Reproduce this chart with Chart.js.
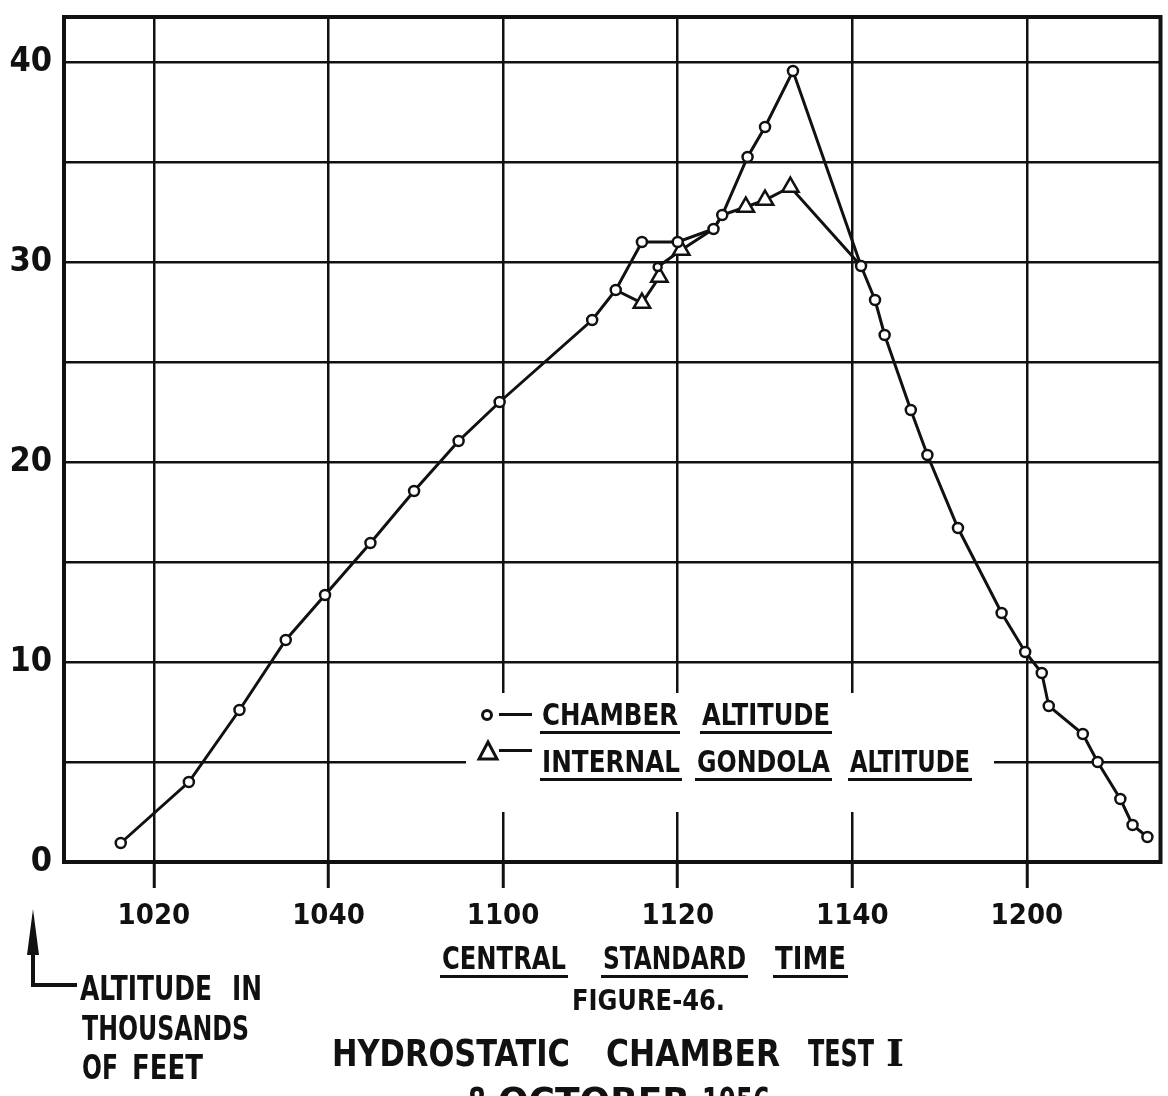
<!DOCTYPE html>
<html>
<head>
<meta charset="utf-8">
<title>Hydrostatic Chamber Test I</title>
<script src="https://cdn.jsdelivr.net/npm/chart.js@4.4.1/dist/chart.umd.min.js"></script>
<style>
  html, body { margin: 0; padding: 0; background: #fff; }
</style>
</head>
<body>
<canvas id="altitudeChart" width="1168" height="1096"></canvas>
<script>
// Time is minutes after 1000 CST, altitude in thousands of feet
const chamberTime = [16.2, 24.0, 29.8, 35.1, 39.6, 44.8, 49.8, 54.9, 59.6, 70.2, 72.9, 75.9, 80.0,
  84.1, 85.1, 88.0, 90.0, 93.2, 101.0, 102.6, 103.7, 106.7, 108.6, 112.1, 117.1, 119.8, 121.7,
  122.5, 126.4, 128.1, 130.7, 132.1, 133.8];
const chamberAlt = [0.95, 4.0, 7.6, 11.1, 13.35, 15.95, 18.55, 21.05, 23.0, 27.1, 28.6, 31.0, 31.0,
  31.65, 32.35, 35.25, 36.75, 39.55, 29.8, 28.1, 26.35, 22.6, 20.35, 16.7, 12.45, 10.5, 9.45,
  7.8, 6.4, 5.0, 3.15, 1.85, 1.25];

// gondola line leaves and rejoins the chamber line; "" = shared chamber reading
const gondolaTime = [72.9, 75.9, 77.9, 77.7, 80.4, 84.1, 85.1, 87.8, 90.0, 92.9, 101.0];
const gondolaAlt = [28.6, 27.95, 29.25, 29.75, 30.6, 31.65, 32.35, 32.75, 33.1, 33.75, 29.8];
const gondolaMark = ["", "tri", "tri", "o", "tri", "", "", "tri", "tri", "tri", ""];

const timeTicks = [20, 40, 60, 80, 100, 120];
const timeLabels = ["1020", "1040", "1100", "1120", "1140", "1200"];
const altLabels = [0, 10, 20, 30, 40];

const INK = "#111";
const FONT = "'DejaVu Sans Condensed', 'DejaVu Sans', sans-serif";
const SERIF = "'DejaVu Serif', serif";

// draw a word squeezed/stretched to the lettering width of the original
function fitText(ctx, text, left, right, baseline, size, underline, family) {
  ctx.font = "bold " + size + "px " + (family || FONT);
  const w = ctx.measureText(text).width;
  ctx.save();
  ctx.translate(left, baseline);
  ctx.scale((right - left) / w, 1);
  ctx.textAlign = "left";
  ctx.textBaseline = "alphabetic";
  ctx.fillText(text, 0, 0);
  ctx.restore();
  if (underline) {
    ctx.fillRect(left - 2, baseline + 6, right - left + 4, 3);
  }
}

// frame, key and the captions under the plot
const paperPlugin = {
  id: "paper",
  beforeDatasetsDraw(chart) {
    const ctx = chart.ctx;
    const a = chart.chartArea;
    ctx.save();
    ctx.fillStyle = "#fff";
    ctx.fillRect(466, 693, 528, 119);

    ctx.strokeStyle = INK;
    ctx.lineWidth = 4;
    ctx.strokeRect(a.left, a.top, a.right - a.left, a.bottom - a.top);

    // key symbols
    ctx.lineWidth = 3;
    ctx.beginPath();
    ctx.arc(487, 715, 4.5, 0, Math.PI * 2);
    ctx.stroke();
    ctx.beginPath();
    ctx.moveTo(488, 742);
    ctx.lineTo(479, 759);
    ctx.lineTo(497, 759);
    ctx.closePath();
    ctx.stroke();
    ctx.fillStyle = INK;
    ctx.fillRect(499, 713, 33, 3);
    ctx.fillRect(499, 749, 33, 3);

    fitText(ctx, "CHAMBER", 542, 678, 725, 30, true);
    fitText(ctx, "ALTITUDE", 702, 830, 725, 30, true);
    fitText(ctx, "INTERNAL", 542, 680, 772, 30, true);
    fitText(ctx, "GONDOLA", 697, 830, 772, 30, true);
    fitText(ctx, "ALTITUDE", 850, 970, 772, 30, true);
    ctx.restore();
  },
  afterDraw(chart) {
    const ctx = chart.ctx;
    ctx.save();
    ctx.fillStyle = INK;
    ctx.strokeStyle = INK;

    fitText(ctx, "CENTRAL", 442, 566, 969, 32, true);
    fitText(ctx, "STANDARD", 603, 746, 969, 32, true);
    fitText(ctx, "TIME", 775, 846, 969, 32, true);
    fitText(ctx, "FIGURE-46.", 572, 725, 1010, 28, false);

    fitText(ctx, "HYDROSTATIC", 332, 570, 1066, 37, false);
    fitText(ctx, "CHAMBER", 606, 780, 1066, 37, false);
    fitText(ctx, "TEST", 808, 874, 1066, 37, false);
    fitText(ctx, "I", 886, 904, 1066, 37, false, SERIF);
    fitText(ctx, "8", 468, 486, 1114, 37, false);
    fitText(ctx, "OCTOBER", 498, 690, 1114, 37, false);
    fitText(ctx, "1956", 702, 770, 1114, 37, false);

    // arrow pointing at the altitude scale
    ctx.lineWidth = 4;
    ctx.beginPath();
    ctx.moveTo(33, 940);
    ctx.lineTo(33, 985);
    ctx.lineTo(77, 985);
    ctx.stroke();
    ctx.beginPath();
    ctx.moveTo(33, 909);
    ctx.lineTo(27, 955);
    ctx.lineTo(39, 955);
    ctx.closePath();
    ctx.fill();

    fitText(ctx, "ALTITUDE", 80, 212, 1000, 34, false);
    fitText(ctx, "IN", 232, 262, 1000, 34, false);
    fitText(ctx, "THOUSANDS", 82, 249, 1040, 34, false);
    fitText(ctx, "OF", 82, 118, 1079, 34, false);
    fitText(ctx, "FEET", 132, 203, 1079, 34, false);
    ctx.restore();
  },
};

function noScalePadding(scale) {
  scale.paddingTop = 0;
  scale.paddingBottom = 0;
  scale.paddingLeft = 0;
  scale.paddingRight = 0;
}

const chamberData = chamberTime.map((t, i) => ({ x: t, y: chamberAlt[i] }));
const gondolaData = gondolaTime.map((t, i) => ({ x: t, y: gondolaAlt[i] }));

const altitudeChart = new Chart(document.getElementById("altitudeChart"), {
  type: "line",
  data: {
    datasets: [
      {
        label: "CHAMBER ALTITUDE",
        data: chamberData,
        borderColor: INK,
        borderWidth: 3,
        tension: 0,
        pointStyle: "circle",
        pointRadius: 5,
        pointBorderWidth: 2.5,
        pointBorderColor: INK,
        pointBackgroundColor: "#fff",
      },
      {
        label: "INTERNAL GONDOLA ALTITUDE",
        data: gondolaData,
        borderColor: INK,
        borderWidth: 3,
        tension: 0,
        pointStyle: function (ctx) {
          return gondolaMark[ctx.dataIndex] === "tri" ? "triangle" : "circle";
        },
        pointRadius: function (ctx) {
          const m = gondolaMark[ctx.dataIndex];
          if (m === "tri") return 9.5;
          if (m === "o") return 4;
          return 0;
        },
        pointBorderWidth: 2.5,
        pointBorderColor: INK,
        pointBackgroundColor: "#fff",
      },
    ],
  },
  options: {
    responsive: false,
    animation: false,
    layout: { padding: { top: 17, right: 5, left: 0, bottom: 0 } },
    plugins: {
      legend: { display: false },
      tooltip: { enabled: false },
    },
    scales: {
      x: {
        type: "linear",
        min: 9.7,
        max: 135.3,
        afterFit: function (scale) {
          scale.height = 234;
          noScalePadding(scale);
        },
        afterBuildTicks: function (scale) {
          scale.ticks = timeTicks.map((v) => ({ value: v }));
        },
        grid: {
          color: INK,
          lineWidth: 2.5,
          drawTicks: true,
          tickLength: 26,
          tickColor: INK,
          tickWidth: 3,
        },
        border: { display: false },
        ticks: {
          autoSkip: false,
          maxRotation: 0,
          padding: 11,
          color: INK,
          font: { family: FONT, size: 29, weight: "bold" },
          callback: function (value) {
            const i = timeTicks.indexOf(value);
            return i >= 0 ? timeLabels[i] : "";
          },
        },
      },
      y: {
        type: "linear",
        min: 0,
        max: 42.25,
        afterFit: function (scale) {
          scale.width = 64;
          noScalePadding(scale);
        },
        grid: {
          color: INK,
          lineWidth: 2.5,
          drawTicks: false,
        },
        border: { display: false },
        ticks: {
          stepSize: 5,
          includeBounds: false,
          autoSkip: false,
          padding: 12,
          color: INK,
          font: { family: FONT, size: 34, weight: "bold" },
          callback: function (value) {
            return altLabels.includes(value) ? String(value) : "";
          },
        },
      },
    },
  },
  plugins: [paperPlugin],
});
</script>
</body>
</html>
